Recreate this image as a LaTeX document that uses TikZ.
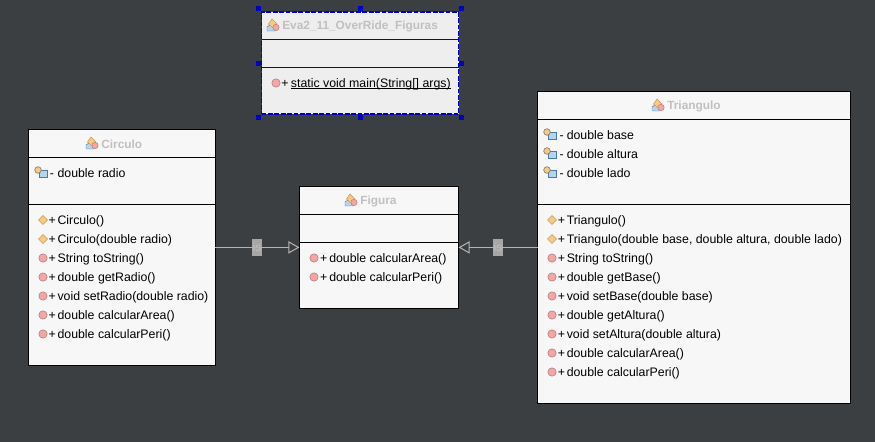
\documentclass[tikz,border=0pt]{standalone}
\usepackage{fontspec}
\setmainfont{Liberation Sans}
\usetikzlibrary{arrows.meta}
\definecolor{bg}{HTML}{3C3F41}
\definecolor{boxfill}{HTML}{F7F7F7}
\definecolor{selfill}{HTML}{EEEEEE}
\definecolor{sel}{HTML}{0000C8}
\definecolor{titlec}{HTML}{C0C0C0}
\definecolor{conn}{HTML}{B4B4B4}
\definecolor{chip}{HTML}{A6A6A6}
\definecolor{orng}{HTML}{F5CB85}
\definecolor{orngd}{HTML}{D09A50}
\definecolor{rd}{HTML}{F6A5A5}
\definecolor{rdd}{HTML}{B07C7C}
\definecolor{blu}{HTML}{B5D5EF}
\definecolor{blud}{HTML}{4A7BA8}
\definecolor{gry}{HTML}{8A7A68}
\tikzset{
  x=0.75pt,y=-0.75pt,
  umlbox/.style={draw=black,fill=boxfill,line width=0.75pt,inner sep=0pt,outer sep=0pt},
  selbox/.style={draw=sel,fill=selfill,dash pattern=on 3.6pt off 1.2pt,line width=0.85pt,inner sep=0pt,outer sep=0pt},
  title/.style={font=\bfseries\fontsize{8.9}{10}\selectfont,text=titlec,inner sep=0pt},
  member/.style={font=\fontsize{9.25}{10}\selectfont,anchor=base west,inner sep=0pt,text=black},
  vis/.style={font=\fontsize{9.25}{10}\selectfont,anchor=base,inner sep=0pt,text=black},
  chipl/.style={fill=chip,text=titlec,font=\fontsize{9}{10}\selectfont,minimum width=7.5pt,minimum height=12.75pt,inner sep=0pt},
  gen/.style={draw=conn,line width=0.75pt,-{Triangle[open,length=8.2pt,width=9.2pt,fill=none]}},
  handle/.style={fill=sel,draw=none,minimum size=4pt,inner sep=0pt},
  meth/.pic={\fill[rd,draw=rdd,line width=0.4pt] (0,0) circle[radius=4.2];},
  ctor/.pic={\fill[orng,draw=orngd,line width=0.4pt] (-4.5,0)--(0,-4.5)--(4.5,0)--(0,4.5)--cycle;},
  attr/.pic={\fill[blu,draw=blud,line width=0.4pt] (-1,-2) rectangle (7,5);
     \fill[orng,draw=gry,line width=0.5pt] (-2,-2) circle[radius=3.3];},
  cls/.pic={\fill[blu,draw=blud,line width=0.35pt] (-6,6)--(-6,2)--(-3,0)--(2,0)--(2,6)--cycle;
     \fill[orng,draw=orngd,line width=0.4pt] (-4.5,-1)--(-1,-6)--(4,-1)--(0.5,3.5)--cycle;
     \fill[rd,draw=rdd,line width=0.35pt] (3,2.5) circle[radius=3.2];},
}
\begin{document}
\begin{tikzpicture}
\useasboundingbox (0,0) rectangle (875,442);
\fill[bg] (0,0) rectangle (875,442);

% boxes
\node[umlbox,minimum width=139.95pt,minimum height=177.15pt] (circ) at (121.7,247.4) {};
\node[umlbox,minimum width=119.4pt,minimum height=91.2pt] (fig) at (379,247.4) {};
\node[umlbox,minimum width=234.5pt,minimum height=233.85pt] (tri) at (694.1,247.4) {};
\node[selbox,minimum width=147.75pt,minimum height=76.5pt] (eva) at (360,63) {};

% compartments
\draw[line width=0.75pt,black] (28.4,157.3)--(215,157.3) (28.4,204.3)--(215,204.3);
\draw[line width=0.75pt,black] (299.4,214.3)--(458.6,214.3) (299.4,242.3)--(458.6,242.3);
\draw[line width=0.75pt,black] (537.7,119.3)--(850.6,119.3) (537.7,204.3)--(850.6,204.3);
\draw[line width=0.75pt,sel] (261.5,39.3)--(458.5,39.3) (261.5,67.3)--(458.5,67.3);

% handles
\foreach \n/\hx/\hy in {h1/258.5/8.3,h2/360.3/8.3,h3/461.5/8.3,h4/258.5/63.3,h5/461.5/63.3,h6/258.5/117.3,h7/360.3/117.3,h8/461.5/117.3}{
  \node[handle] (\n) at (\hx,\hy) {};
}

% titles
\pic at (273,25) {cls};
\node[title,anchor=west] (t-eva) at (282,26.5) {Eva2\_11\_OverRide\_Figuras};
\pic at (92,143) {cls};
\node[title,anchor=west] (t-circ) at (101,144.5) {Circulo};
\pic at (351,200) {cls};
\node[title,anchor=west] (t-fig) at (360,201.5) {Figura};
\pic at (658,105) {cls};
\node[title,anchor=west] (t-tri) at (667,106.5) {Triangulo};

% Eva
\pic at (276,83) {meth};
\node[vis] at (285,87.5) {+};
\node[member] (e1) at (290.7,87.5) {static void main(String[] args)};
\draw[line width=0.75pt,black] ([yshift=-1.1pt]e1.base west) -- ([yshift=-1.1pt]e1.base east);

% Circulo
\pic at (40,172) {attr};
\node[vis] at (52,178) {-};
\node[member] at (57.3,178) {double radio};
\foreach \ic/\yy/\tx in {ctor/220/Circulo(),ctor/239/Circulo(double radio),meth/258/String toString(),meth/277/double getRadio(),meth/296/void setRadio(double radio),meth/315/double calcularArea(),meth/334/double calcularPeri()}{
  \pic at (43,\yy) {\ic};
  \node[vis] at (52.3,\yy+4.5) {+};
  \node[member] at (57.3,\yy+4.5) {\tx};
}

% Figura
\foreach \yy/\tx in {258/double calcularArea(),277/double calcularPeri()}{
  \pic at (314,\yy) {meth};
  \node[vis] at (323.7,\yy+4.5) {+};
  \node[member] at (329,\yy+4.5) {\tx};
}

% Triangulo
\foreach \yy/\tx in {134/double base,153/double altura,172/double lado}{
  \pic at (549,\yy) {attr};
  \node[vis] at (561.7,\yy+6) {-};
  \node[member] at (566.5,\yy+6) {\tx};
}
\foreach \ic/\yy/\tx in {ctor/220/Triangulo(),ctor/239/{Triangulo(double base, double altura, double lado)},meth/258/String toString(),meth/277/double getBase(),meth/296/void setBase(double base),meth/315/double getAltura(),meth/334/void setAltura(double altura),meth/353/double calcularArea(),meth/372/double calcularPeri()}{
  \pic at (552,\yy) {\ic};
  \node[vis] at (561.5,\yy+4.5) {+};
  \node[member] at (566.5,\yy+4.5) {\tx};
}

% connectors
\node[chipl] (is1) at (257,247.5) {is};
\node[chipl] (is2) at (498,247.5) {is};
\draw[gen] (circ) -- (fig);
\draw[gen] (tri) -- (fig);
\end{tikzpicture}
\end{document}
